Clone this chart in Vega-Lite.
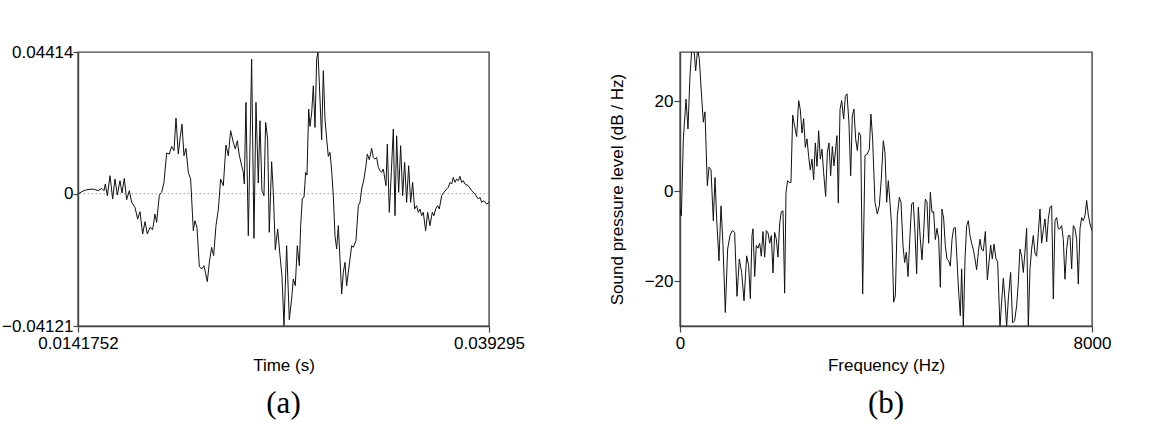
{
  "$schema": "https://vega.github.io/schema/vega-lite/v6.json",
  "padding": {"left": 0, "top": 42, "right": 0, "bottom": 0},
  "background": "white",
  "spacing": 81,
  "config": {
    "font": "Liberation Sans",
    "view": {"stroke": "#444", "strokeWidth": 1.4},
    "axis": {
      "labelFontSize": 17, "titleFontSize": 17, "titleFontWeight": "normal",
      "labelColor": "#000", "titleColor": "#000", "domainColor": "#444", "tickColor": "#444",
      "tickSize": 6, "labelPadding": 1, "grid": false, "labelFlush": false, "labelOverlap": false,
      "titlePadding": 4, "domainWidth": 1.4, "tickWidth": 1.2
    },
    "axisX": {"labelPadding": 3, "titlePadding": 6},
    "title": {"font": "Liberation Serif", "fontSize": 31, "fontWeight": "normal", "color": "#000", "orient": "bottom", "frame": "group", "anchor": "middle", "offset": 16}
  },
  "datasets": {
    "wave": [
      {"t":0.0141752,"v":-0.0001},{"t":0.014399,"v":0.00062},{"t":0.014705,"v":0.00125},{"t":0.015112,"v":0.00145},{"t":0.015418,"v":0.00093},{"t":0.015621,"v":0.00166},{"t":0.015764,"v":0.00093},{"t":0.015845,"v":0.00301},{"t":0.015968,"v":-0.00062},{"t":0.016131,"v":0.00561},{"t":0.016293,"v":-0.00166},{"t":0.016436,"v":0.00457},{"t":0.016579,"v":-0.00042},{"t":0.016742,"v":0.00405},{"t":0.016864,"v":0.00021},{"t":0.017006,"v":0.00477},{"t":0.017149,"v":-0.00187},{"t":0.017312,"v":0.00093},{"t":0.017455,"v":-0.0027},{"t":0.017658,"v":-0.00426},{"t":0.017821,"v":-0.00789},{"t":0.017964,"v":-0.00561},{"t":0.018127,"v":-0.01256},{"t":0.018269,"v":-0.00872},{"t":0.018412,"v":-0.01256},{"t":0.018575,"v":-0.01048},{"t":0.018738,"v":-0.01121},{"t":0.01888,"v":-0.00633},{"t":0.018982,"v":-0.00893},{"t":0.019145,"v":-0.00042},{"t":0.019288,"v":0.00042},{"t":0.01943,"v":0.00353},{"t":0.019593,"v":0.01266},{"t":0.019756,"v":0.01235},{"t":0.019899,"v":0.01474},{"t":0.020042,"v":0.01339},{"t":0.020164,"v":0.02356},{"t":0.020306,"v":0.01235},{"t":0.020408,"v":0.01702},{"t":0.020531,"v":0.02169},{"t":0.020653,"v":0.01183},{"t":0.020775,"v":0.01412},{"t":0.020917,"v":0.00664},{"t":0.02106,"v":0.00457},{"t":0.021223,"v":-0.01152},{"t":0.021325,"v":-0.00841},{"t":0.021447,"v":-0.01048},{"t":0.02159,"v":-0.02263},{"t":0.021732,"v":-0.02346},{"t":0.021875,"v":-0.02242},{"t":0.022079,"v":-0.0274},{"t":0.022201,"v":-0.02138},{"t":0.022343,"v":-0.01671},{"t":0.022466,"v":-0.01931},{"t":0.022608,"v":-0.00996},{"t":0.022751,"v":-0.00498},{"t":0.022893,"v":0.00457},{"t":0.023056,"v":0.00249},{"t":0.023219,"v":0.01515},{"t":0.023362,"v":0.01183},{"t":0.023504,"v":0.01962},{"t":0.023667,"v":0.01599},{"t":0.02379,"v":0.01391},{"t":0.023912,"v":0.0165},{"t":0.024034,"v":0.01204},{"t":0.024177,"v":0.00872},{"t":0.024279,"v":0.00664},{"t":0.02434,"v":0.00301},{"t":0.024441,"v":0.02844},{"t":0.024584,"v":-0.01308},{"t":0.024788,"v":0.04194},{"t":0.02493,"v":-0.01391},{"t":0.025053,"v":0.02844},{"t":0.025195,"v":0.00332},{"t":0.025297,"v":0.02273},{"t":0.025419,"v":0.00093},{"t":0.025541,"v":-0.00062},{"t":0.025643,"v":0.02221},{"t":0.025765,"v":0.01702},{"t":0.025867,"v":-0.01204},{"t":0.02601,"v":0.00996},{"t":0.026112,"v":0.00042},{"t":0.026234,"v":-0.01744},{"t":0.026377,"v":-0.011},{"t":0.026519,"v":-0.0191},{"t":0.026641,"v":-0.02553},{"t":0.026764,"v":-0.0411},{"t":0.026927,"v":-0.01619},{"t":0.02709,"v":-0.03924},{"t":0.027232,"v":-0.0328},{"t":0.027334,"v":-0.02657},{"t":0.027456,"v":-0.02865},{"t":0.027579,"v":-0.01619},{"t":0.027701,"v":-0.02242},{"t":0.027784,"v":-0.00996},{"t":0.027886,"v":-0.00145},{"t":0.027988,"v":-0.00114},{"t":0.02809,"v":0.00664},{"t":0.028171,"v":0.00581},{"t":0.028273,"v":0.02637},{"t":0.028354,"v":0.02097},{"t":0.028456,"v":0.02512},{"t":0.028558,"v":0.03363},{"t":0.02866,"v":0.02066},{"t":0.028762,"v":0.04194},{"t":0.028843,"v":0.04401},{"t":0.028965,"v":0.02948},{"t":0.029067,"v":0.01682},{"t":0.029169,"v":0.0383},{"t":0.029271,"v":0.02325},{"t":0.029373,"v":0.01702},{"t":0.029475,"v":0.01163},{"t":0.029577,"v":0.01287},{"t":0.029678,"v":0.00716},{"t":0.02978,"v":-0.00062},{"t":0.029882,"v":-0.01308},{"t":0.029984,"v":-0.01723},{"t":0.030086,"v":-0.00996},{"t":0.030188,"v":-0.02034},{"t":0.03029,"v":-0.03124},{"t":0.030391,"v":-0.0245},{"t":0.030493,"v":-0.02138},{"t":0.030595,"v":-0.02865},{"t":0.030697,"v":-0.0245},{"t":0.030799,"v":-0.02034},{"t":0.030901,"v":-0.01619},{"t":0.031002,"v":-0.01671},{"t":0.031165,"v":-0.01464},{"t":0.031308,"v":-0.00374},{"t":0.03141,"v":-0.0027},{"t":0.031512,"v":0.00145},{"t":0.031654,"v":0.00457},{"t":0.031776,"v":0.00872},{"t":0.031858,"v":0.01235},{"t":0.03198,"v":0.01059},{"t":0.032123,"v":0.01412},{"t":0.032225,"v":0.01131},{"t":0.032326,"v":0.0108},{"t":0.032428,"v":0.01131},{"t":0.03253,"v":0.0082},{"t":0.032632,"v":0.00716},{"t":0.032734,"v":0.00664},{"t":0.032836,"v":0.00768},{"t":0.032999,"v":0.00249},{"t":0.03308,"v":0.01547},{"t":0.033202,"v":-0.00581},{"t":0.033325,"v":0.00664},{"t":0.033447,"v":0.02014},{"t":0.033549,"v":-0.00685},{"t":0.033651,"v":0.01806},{"t":0.033773,"v":0.00042},{"t":0.033895,"v":0.01495},{"t":0.034017,"v":-0.00062},{"t":0.034139,"v":0.00976},{"t":0.034262,"v":-0.0027},{"t":0.034384,"v":0.00872},{"t":0.034506,"v":-0.0027},{"t":0.034628,"v":0.00353},{"t":0.034751,"v":-0.00477},{"t":0.034873,"v":-0.00374},{"t":0.034975,"v":-0.00581},{"t":0.035076,"v":-0.00477},{"t":0.035178,"v":-0.00685},{"t":0.03528,"v":-0.00581},{"t":0.035423,"v":-0.01152},{"t":0.035545,"v":-0.00581},{"t":0.035688,"v":-0.00996},{"t":0.03583,"v":-0.00581},{"t":0.035932,"v":-0.00685},{"t":0.036034,"v":-0.00477},{"t":0.036156,"v":-0.00374},{"t":0.036258,"v":-0.00477},{"t":0.036401,"v":-0.00062},{"t":0.036543,"v":0.00042},{"t":0.036706,"v":0.00145},{"t":0.036808,"v":0.00197},{"t":0.03691,"v":0.00353},{"t":0.037012,"v":0.00301},{"t":0.037113,"v":0.00509},{"t":0.037215,"v":0.00353},{"t":0.037317,"v":0.00457},{"t":0.037419,"v":0.00405},{"t":0.037521,"v":0.0054},{"t":0.037623,"v":0.00353},{"t":0.037725,"v":0.00405},{"t":0.037826,"v":0.00301},{"t":0.03803,"v":0.00249},{"t":0.038234,"v":0.00093},{"t":0.038437,"v":-0.0001},{"t":0.038641,"v":-0.00166},{"t":0.038743,"v":-0.00114},{"t":0.038845,"v":-0.0027},{"t":0.038988,"v":-0.00218},{"t":0.039151,"v":-0.00322},{"t":0.039293,"v":-0.0027}
    ],
    "spectrum": [
      {"f":0,"db":-4.0},{"f":26,"db":-5.5},{"f":65,"db":11.6},{"f":117,"db":20.4},{"f":155,"db":13.8},{"f":194,"db":25.6},{"f":233,"db":32.3},{"f":272,"db":31.6},{"f":304,"db":26.7},{"f":343,"db":31.6},{"f":375,"db":29.3},{"f":421,"db":20.8},{"f":453,"db":15.3},{"f":485,"db":17.6},{"f":518,"db":5.6},{"f":531,"db":1.2},{"f":563,"db":5.3},{"f":602,"db":4.7},{"f":647,"db":-6.6},{"f":680,"db":3.0},{"f":712,"db":-6.2},{"f":757,"db":-15.5},{"f":796,"db":-3.3},{"f":835,"db":-12.1},{"f":880,"db":-27.0},{"f":925,"db":-12.9},{"f":971,"db":-9.9},{"f":1016,"db":-8.8},{"f":1061,"db":-9.2},{"f":1107,"db":-23.4},{"f":1152,"db":-15.1},{"f":1197,"db":-18.1},{"f":1243,"db":-24.4},{"f":1294,"db":-14.4},{"f":1333,"db":-16.6},{"f":1366,"db":-23.9},{"f":1398,"db":-9.9},{"f":1418,"db":-8.4},{"f":1450,"db":-19.0},{"f":1482,"db":-12.1},{"f":1514,"db":-12.7},{"f":1547,"db":-11.6},{"f":1579,"db":-14.5},{"f":1611,"db":-9.0},{"f":1644,"db":-14.7},{"f":1676,"db":-8.8},{"f":1709,"db":-9.3},{"f":1741,"db":-11.6},{"f":1773,"db":-9.9},{"f":1806,"db":-18.2},{"f":1838,"db":-9.2},{"f":1870,"db":-10.7},{"f":1903,"db":-14.7},{"f":1935,"db":-7.3},{"f":1967,"db":-4.6},{"f":2000,"db":-4.4},{"f":2032,"db":-22.7},{"f":2058,"db":-0.3},{"f":2090,"db":2.3},{"f":2123,"db":1.9},{"f":2155,"db":1.9},{"f":2188,"db":16.9},{"f":2226,"db":14.4},{"f":2265,"db":12.1},{"f":2304,"db":20.1},{"f":2336,"db":18.1},{"f":2369,"db":12.9},{"f":2401,"db":16.1},{"f":2433,"db":9.7},{"f":2466,"db":11.6},{"f":2498,"db":7.7},{"f":2530,"db":4.7},{"f":2563,"db":7.1},{"f":2595,"db":2.5},{"f":2628,"db":10.7},{"f":2660,"db":5.5},{"f":2692,"db":13.4},{"f":2725,"db":7.1},{"f":2757,"db":9.3},{"f":2789,"db":4.1},{"f":2828,"db":-1.2},{"f":2861,"db":8.6},{"f":2893,"db":10.7},{"f":2925,"db":3.4},{"f":2958,"db":9.9},{"f":2990,"db":5.6},{"f":3022,"db":9.3},{"f":3048,"db":12.3},{"f":3074,"db":-2.7},{"f":3107,"db":18.1},{"f":3139,"db":20.1},{"f":3178,"db":16.0},{"f":3210,"db":21.0},{"f":3243,"db":21.6},{"f":3281,"db":15.1},{"f":3314,"db":3.4},{"f":3346,"db":16.7},{"f":3378,"db":18.2},{"f":3411,"db":11.6},{"f":3443,"db":9.0},{"f":3476,"db":13.0},{"f":3508,"db":12.3},{"f":3547,"db":-22.9},{"f":3592,"db":7.9},{"f":3637,"db":8.2},{"f":3676,"db":9.3},{"f":3707,"db":17.1},{"f":3740,"db":11.6},{"f":3786,"db":-2.5},{"f":3831,"db":-5.1},{"f":3870,"db":-3.3},{"f":3909,"db":2.7},{"f":3948,"db":11.2},{"f":3980,"db":8.6},{"f":4013,"db":-2.5},{"f":4045,"db":2.3},{"f":4077,"db":-2.5},{"f":4110,"db":-7.7},{"f":4149,"db":-24.7},{"f":4181,"db":-23.3},{"f":4220,"db":-5.5},{"f":4259,"db":-1.4},{"f":4291,"db":-2.5},{"f":4330,"db":-12.1},{"f":4362,"db":-15.9},{"f":4395,"db":-13.6},{"f":4427,"db":-19.0},{"f":4466,"db":-9.9},{"f":4498,"db":-2.9},{"f":4530,"db":-2.5},{"f":4563,"db":-9.2},{"f":4595,"db":-18.4},{"f":4628,"db":-3.6},{"f":4666,"db":-10.7},{"f":4699,"db":-15.3},{"f":4731,"db":-9.2},{"f":4763,"db":-1.8},{"f":4796,"db":-2.4},{"f":4828,"db":-11.6},{"f":4861,"db":-0.3},{"f":4893,"db":-4.7},{"f":4925,"db":-4.6},{"f":4958,"db":-10.8},{"f":4990,"db":-8.3},{"f":5023,"db":-10.7},{"f":5055,"db":-21.4},{"f":5087,"db":-4.0},{"f":5120,"db":-6.2},{"f":5152,"db":-12.1},{"f":5184,"db":-15.1},{"f":5217,"db":-15.5},{"f":5249,"db":-16.7},{"f":5282,"db":-10.7},{"f":5314,"db":-8.3},{"f":5346,"db":-8.1},{"f":5378,"db":-15.1},{"f":5411,"db":-22.5},{"f":5443,"db":-27.7},{"f":5469,"db":-17.3},{"f":5502,"db":-30.3},{"f":5534,"db":-15.1},{"f":5566,"db":-7.7},{"f":5598,"db":-6.6},{"f":5631,"db":-9.9},{"f":5663,"db":-11.6},{"f":5696,"db":-13.0},{"f":5728,"db":-15.1},{"f":5760,"db":-17.5},{"f":5793,"db":-13.6},{"f":5825,"db":-10.7},{"f":5857,"db":-13.0},{"f":5890,"db":-13.3},{"f":5929,"db":-9.0},{"f":5968,"db":-19.7},{"f":6000,"db":-15.9},{"f":6032,"db":-12.0},{"f":6064,"db":-15.1},{"f":6097,"db":-11.8},{"f":6136,"db":-15.1},{"f":6168,"db":-15.7},{"f":6213,"db":-30.3},{"f":6245,"db":-24.7},{"f":6278,"db":-19.4},{"f":6310,"db":-24.0},{"f":6342,"db":-30.3},{"f":6375,"db":-24.0},{"f":6420,"db":-18.1},{"f":6459,"db":-29.3},{"f":6498,"db":-28.8},{"f":6537,"db":-25.5},{"f":6569,"db":-20.3},{"f":6601,"db":-12.9},{"f":6634,"db":-14.5},{"f":6666,"db":-18.1},{"f":6698,"db":-13.6},{"f":6731,"db":-8.3},{"f":6763,"db":-30.3},{"f":6796,"db":-17.3},{"f":6828,"db":-12.9},{"f":6860,"db":-9.9},{"f":6893,"db":-13.8},{"f":6925,"db":-14.5},{"f":6958,"db":-9.2},{"f":6990,"db":-4.0},{"f":7022,"db":-11.6},{"f":7055,"db":-8.6},{"f":7087,"db":-6.2},{"f":7120,"db":-11.3},{"f":7152,"db":-6.2},{"f":7184,"db":-3.6},{"f":7217,"db":-3.3},{"f":7249,"db":-24.0},{"f":7281,"db":-6.6},{"f":7314,"db":-5.9},{"f":7346,"db":-8.4},{"f":7378,"db":-8.4},{"f":7411,"db":-7.7},{"f":7443,"db":-10.8},{"f":7475,"db":-19.6},{"f":7508,"db":-12.9},{"f":7540,"db":-9.9},{"f":7572,"db":-9.9},{"f":7605,"db":-17.3},{"f":7637,"db":-7.7},{"f":7670,"db":-8.4},{"f":7702,"db":-10.7},{"f":7734,"db":-20.7},{"f":7767,"db":-8.4},{"f":7799,"db":-5.9},{"f":7831,"db":-6.6},{"f":7864,"db":-5.5},{"f":7896,"db":-2.1},{"f":7928,"db":-5.3},{"f":7961,"db":-7.3},{"f":8000,"db":-8.8}
    ]
  },
  "hconcat": [
    {
      "width": 411, "height": 274,
      "title": "(a)",
      "layer": [
        {
          "data": {"values": [{}]},
          "mark": {"type": "rule", "color": "#999", "strokeDash": [1.5, 2.5], "strokeWidth": 1},
          "encoding": {"y": {"datum": 0, "type": "quantitative"}}
        },
        {
          "data": {"name": "wave"},
          "mark": {"type": "line", "color": "#111", "strokeWidth": 1, "clip": true},
          "encoding": {
            "x": {"field": "t", "type": "quantitative",
                  "scale": {"domain": [0.0141752, 0.039295], "nice": false, "zero": false},
                  "axis": {"title": "Time (s)", "values": [0.0141752, 0.039295], "format": ".7~f"}},
            "y": {"field": "v", "type": "quantitative",
                  "scale": {"domain": [-0.04121, 0.04414], "nice": false, "zero": false},
                  "axis": {"title": null, "values": [-0.04121, 0, 0.04414], "format": ".5~f", "tickSize": 5, "labelPadding": 0}}
          }
        }
      ]
    },
    {
      "width": 412, "height": 274,
      "title": "(b)",
      "data": {"name": "spectrum"},
      "mark": {"type": "line", "color": "#111", "strokeWidth": 1, "clip": true},
      "encoding": {
        "x": {"field": "f", "type": "quantitative",
              "scale": {"domain": [0, 8000], "nice": false, "zero": false},
              "axis": {"title": "Frequency (Hz)", "values": [0, 8000], "format": "d"}},
        "y": {"field": "db", "type": "quantitative",
              "scale": {"domain": [-30, 30.9], "nice": false, "zero": false},
              "axis": {"title": "Sound pressure level (dB / Hz)", "values": [-20, 0, 20], "format": "d", "titlePadding": 18}}
      }
    }
  ]
}
